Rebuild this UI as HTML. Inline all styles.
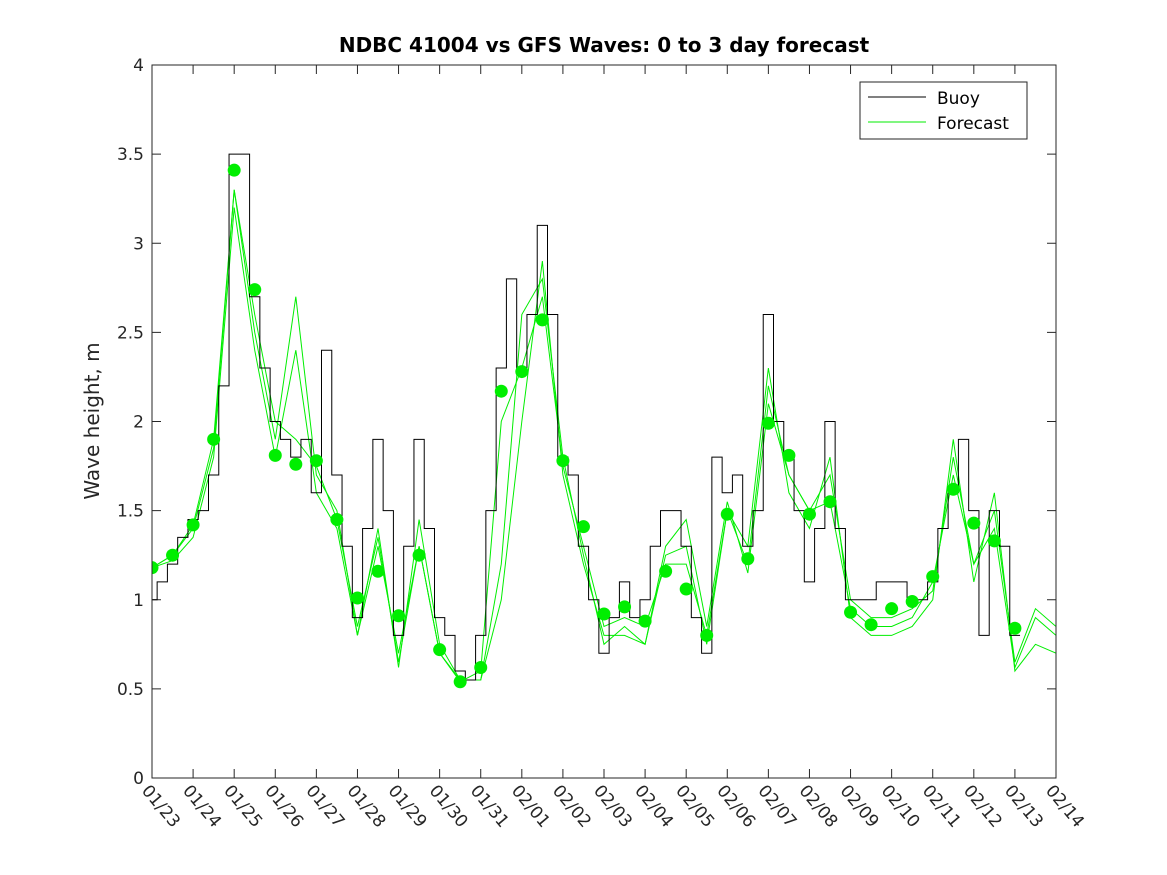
<!DOCTYPE html>
<html><head><meta charset="utf-8"><style>
body{margin:0;background:#fff;}
svg{display:block;font-family:"DejaVu Sans","Liberation Sans",sans-serif;}
</style></head><body>
<svg id="chart" width="1167" height="875">
<rect width="1167" height="875" fill="#fff"/>
<defs><clipPath id="pc"><rect x="152" y="65" width="904" height="713"/></clipPath></defs>
<text x="604" y="52" text-anchor="middle" font-size="20" font-weight="bold" fill="#000">NDBC 41004 vs GFS Waves: 0 to 3 day forecast</text>
<text transform="translate(99,421) rotate(-90)" text-anchor="middle" font-size="20" fill="#262626">Wave height, m</text>
<g id="grid"></g>
<g id="series" clip-path="url(#pc)"></g>
<rect x="152" y="65" width="904" height="713" fill="none" stroke="#262626" stroke-width="1"/>
<g>
<rect x="860" y="82" width="167" height="57" fill="#fff" stroke="#262626"/>
<line x1="868" y1="97" x2="926" y2="97" stroke="#000"/>
<text x="937" y="104" font-size="17" fill="#000">Buoy</text>
<line x1="868" y1="122" x2="926" y2="122" stroke="#00ee00"/>
<text x="937" y="129" font-size="17" fill="#000">Forecast</text>
</g>
</svg>
<script>
const dateLabels=["01/23","01/24","01/25","01/26","01/27","01/28","01/29","01/30","01/31","02/01","02/02","02/03","02/04","02/05","02/06","02/07","02/08","02/09","02/10","02/11","02/12","02/13","02/14"];
const yTicks=[0,0.5,1,1.5,2,2.5,3,3.5,4];
const buoy=[1.0,1.1,1.2,1.35,1.45,1.5,1.7,2.2,3.5,3.5,2.7,2.3,2.0,1.9,1.8,1.9,1.6,2.4,1.7,1.3,0.9,1.4,1.9,1.5,0.8,1.3,1.9,1.4,0.9,0.8,0.6,0.55,0.8,1.5,2.3,2.8,2.3,2.6,3.1,2.6,1.8,1.7,1.3,1.0,0.7,0.9,1.1,0.9,1.0,1.3,1.5,1.5,1.3,0.9,0.7,1.8,1.6,1.7,1.3,1.5,2.6,2.0,1.8,1.5,1.1,1.4,2.0,1.4,1.0,1.0,1.0,1.1,1.1,1.1,1.0,1.0,1.1,1.4,1.6,1.9,1.5,0.8,1.5,1.3,0.8];
const forecastA=[1.18,1.25,1.42,1.9,3.3,2.6,2.0,1.9,1.75,1.45,0.85,1.35,0.65,1.3,0.7,0.54,0.6,2.0,2.3,2.7,1.75,1.3,0.85,0.9,0.85,1.2,1.2,0.8,1.5,1.2,2.2,1.7,1.5,1.55,0.95,0.85,0.85,0.9,1.1,1.7,1.2,1.4,0.62,0.9,0.8];
const forecastB=[1.18,1.22,1.35,1.8,3.2,2.4,1.8,2.4,1.6,1.4,0.8,1.4,0.62,1.45,0.75,0.55,0.55,1.0,2.0,2.9,1.7,1.2,0.8,0.8,0.75,1.25,1.3,0.75,1.5,1.3,2.3,1.6,1.4,1.8,0.9,0.8,0.8,0.85,1.0,1.9,1.1,1.6,0.6,0.75,0.7];
const forecastC=[1.18,1.25,1.4,1.85,3.3,2.5,1.9,2.7,1.7,1.5,0.8,1.3,0.7,1.3,0.7,0.55,0.55,1.2,2.6,2.8,1.8,1.25,0.75,0.85,0.75,1.3,1.45,0.85,1.55,1.15,2.1,1.7,1.5,1.7,1.0,0.9,0.9,0.95,1.05,1.8,1.2,1.5,0.65,0.95,0.85];
const analysis=[1.18,1.25,1.42,1.9,3.41,2.74,1.81,1.76,1.78,1.45,1.01,1.16,0.91,1.25,0.72,0.54,0.62,2.17,2.28,2.57,1.78,1.41,0.92,0.96,0.88,1.16,1.06,0.8,1.48,1.23,1.99,1.81,1.48,1.55,0.93,0.86,0.95,0.99,1.13,1.62,1.43,1.33,0.84];

const NS="http://www.w3.org/2000/svg";
const X0=152,X1=1056,Y0=778,Y1=65;
const xs=d=>X0+(X1-X0)*d/22;
const ys=v=>Y0-(Y0-Y1)*v/4;
const grid=document.getElementById('grid');
const ser=document.getElementById('series');
function mk(tag,attrs,parent){const e=document.createElementNS(NS,tag);for(const k in attrs)e.setAttribute(k,attrs[k]);parent.appendChild(e);return e;}

yTicks.forEach(v=>{
  const y=ys(v);
  const t1=mk('line',{x1:X0,y1:y,x2:X0+9,y2:y,stroke:'#262626'},grid);
  
  
  mk('line',{x1:X1,y1:y,x2:X1-9,y2:y,stroke:'#262626'},grid);
  const t=mk('text',{x:X0-8,y:y+6,'text-anchor':'end','font-size':'17',fill:'#262626'},grid);
  t.textContent=String(v);
  
  
});
dateLabels.forEach((lab,i)=>{
  const x=xs(i);
  const tk=mk('line',{x1:x,y1:Y0,x2:x,y2:Y0-9,stroke:'#262626'},grid);
  
  
  mk('line',{x1:x,y1:Y1,x2:x,y2:Y1+9,stroke:'#262626'},grid);
  const t=mk('text',{transform:`translate(${x-11},${Y0+13}) rotate(50)`,'font-size':'17',fill:'#262626'},grid);
  t.textContent=lab;
  
  
});

function line(arr,step,color,w,name,stepped){
  let d='';
  arr.forEach((v,i)=>{
    const y=ys(v);
    if(stepped){
      const xa=xs(Math.max(0,(i-0.5)*step)),xb=xs((i+0.5)*step);
      if(i===0)d+=`M${xa},${y}H${xb}`;
      else d+=`V${y}H${xb}`;
    } else {
      const x=xs(i*step);
      d+=(i===0?`M${x},${y}`:`L${x},${y}`);
    }
  });
  const p=mk('path',{d,fill:'none',stroke:color,'stroke-width':w},ser);
  
  
}
line(forecastA,0.5,'#00ee00',1,'forecast-line-a',false);
line(forecastB,0.5,'#00ee00',1,'forecast-line-b',false);
line(forecastC,0.5,'#00ee00',1,'forecast-line-c',false);
line(buoy,0.25,'#000',1,'buoy-line',true);
analysis.forEach((v,i)=>{
  const c=mk('circle',{cx:xs(i*0.5),cy:ys(v),r:6.5,fill:'#00ee00'},ser);
  
  
});
</script>
</body></html>
